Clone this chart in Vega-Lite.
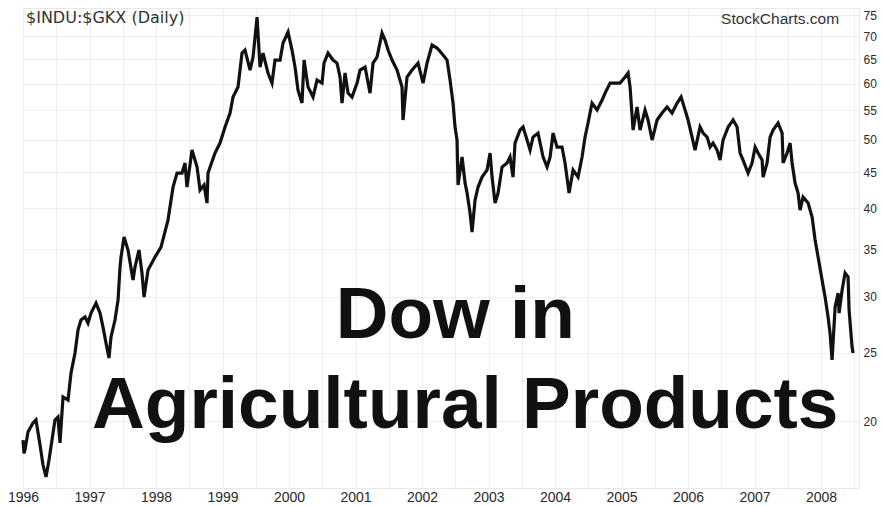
{
  "$schema": "https://vega.github.io/schema/vega-lite/v6.json",
  "width": 836,
  "height": 480,
  "autosize": {"type": "none"},
  "padding": {"left": 23, "top": 8, "right": 23, "bottom": 18},
  "background": "white",
  "config": {
    "font": "Liberation Sans",
    "view": {"stroke": "#e8e8e8", "strokeWidth": 1}
  },
  "datasets": {
    "series": [
      {"t": 1996.000, "v": 18.80}, {"t": 1996.015, "v": 18.00}, {"t": 1996.030, "v": 18.20}, {"t": 1996.075, "v": 19.30}, {"t": 1996.150, "v": 19.87},
      {"t": 1996.195, "v": 20.07}, {"t": 1996.256, "v": 18.50}, {"t": 1996.301, "v": 17.33}, {"t": 1996.346, "v": 16.67},
      {"t": 1996.391, "v": 17.61}, {"t": 1996.436, "v": 18.80}, {"t": 1996.481, "v": 20.07}, {"t": 1996.526, "v": 20.26},
      {"t": 1996.556, "v": 18.62}, {"t": 1996.602, "v": 21.63}, {"t": 1996.677, "v": 21.42}, {"t": 1996.722, "v": 23.39},
      {"t": 1996.782, "v": 24.96}, {"t": 1996.827, "v": 26.90}, {"t": 1996.872, "v": 27.79}, {"t": 1996.932, "v": 28.07},
      {"t": 1996.977, "v": 27.52}, {"t": 1997.023, "v": 28.43}, {"t": 1997.098, "v": 29.37}, {"t": 1997.158, "v": 28.43},
      {"t": 1997.203, "v": 27.16}, {"t": 1997.248, "v": 25.79}, {"t": 1997.293, "v": 24.56}, {"t": 1997.323, "v": 26.29},
      {"t": 1997.383, "v": 27.79}, {"t": 1997.429, "v": 29.66}, {"t": 1997.459, "v": 33.03}, {"t": 1997.474, "v": 34.12},
      {"t": 1997.519, "v": 36.42}, {"t": 1997.579, "v": 34.91}, {"t": 1997.654, "v": 31.66}, {"t": 1997.684, "v": 33.03},
      {"t": 1997.744, "v": 34.91}, {"t": 1997.789, "v": 32.39}, {"t": 1997.820, "v": 29.95}, {"t": 1997.880, "v": 32.71},
      {"t": 1997.985, "v": 34.12}, {"t": 1998.075, "v": 35.25}, {"t": 1998.180, "v": 38.49}, {"t": 1998.256, "v": 42.86},
      {"t": 1998.316, "v": 44.86}, {"t": 1998.391, "v": 44.86}, {"t": 1998.436, "v": 46.35}, {"t": 1998.466, "v": 42.86},
      {"t": 1998.541, "v": 48.35}, {"t": 1998.617, "v": 45.75}, {"t": 1998.662, "v": 42.44}, {"t": 1998.722, "v": 43.14},
      {"t": 1998.767, "v": 40.68}, {"t": 1998.782, "v": 44.86}, {"t": 1998.887, "v": 47.88}, {"t": 1998.962, "v": 49.46},
      {"t": 1999.038, "v": 52.11}, {"t": 1999.113, "v": 54.55}, {"t": 1999.158, "v": 57.46}, {"t": 1999.233, "v": 59.36},
      {"t": 1999.293, "v": 66.31}, {"t": 1999.338, "v": 66.97}, {"t": 1999.414, "v": 62.74}, {"t": 1999.459, "v": 65.46},
      {"t": 1999.519, "v": 74.57}, {"t": 1999.564, "v": 63.36}, {"t": 1999.609, "v": 66.31}, {"t": 1999.684, "v": 62.14},
      {"t": 1999.744, "v": 60.14}, {"t": 1999.789, "v": 64.82}, {"t": 1999.865, "v": 64.82}, {"t": 1999.910, "v": 68.51},
      {"t": 1999.985, "v": 71.01}, {"t": 2000.045, "v": 66.97}, {"t": 2000.090, "v": 63.36}, {"t": 2000.135, "v": 58.79},
      {"t": 2000.195, "v": 56.35}, {"t": 2000.226, "v": 64.82}, {"t": 2000.286, "v": 59.36}, {"t": 2000.361, "v": 57.46},
      {"t": 2000.421, "v": 60.73}, {"t": 2000.496, "v": 60.14}, {"t": 2000.526, "v": 64.19}, {"t": 2000.586, "v": 66.31},
      {"t": 2000.662, "v": 64.82}, {"t": 2000.722, "v": 64.19}, {"t": 2000.767, "v": 61.33}, {"t": 2000.797, "v": 56.35},
      {"t": 2000.842, "v": 62.14}, {"t": 2000.887, "v": 58.21}, {"t": 2000.947, "v": 57.46}, {"t": 2001.023, "v": 60.14},
      {"t": 2001.068, "v": 62.74}, {"t": 2001.143, "v": 63.36}, {"t": 2001.218, "v": 58.21}, {"t": 2001.263, "v": 64.19},
      {"t": 2001.323, "v": 65.46}, {"t": 2001.398, "v": 70.78}, {"t": 2001.444, "v": 69.18}, {"t": 2001.489, "v": 66.97},
      {"t": 2001.549, "v": 64.82}, {"t": 2001.624, "v": 62.74}, {"t": 2001.699, "v": 59.36}, {"t": 2001.714, "v": 53.32},
      {"t": 2001.774, "v": 61.33}, {"t": 2001.850, "v": 62.74}, {"t": 2001.940, "v": 64.19}, {"t": 2002.015, "v": 60.14},
      {"t": 2002.075, "v": 64.19}, {"t": 2002.150, "v": 68.07}, {"t": 2002.226, "v": 67.40}, {"t": 2002.316, "v": 65.89},
      {"t": 2002.376, "v": 64.82}, {"t": 2002.421, "v": 60.73}, {"t": 2002.466, "v": 56.35}, {"t": 2002.496, "v": 52.11},
      {"t": 2002.526, "v": 49.95}, {"t": 2002.541, "v": 43.14}, {"t": 2002.602, "v": 47.26}, {"t": 2002.647, "v": 43.42},
      {"t": 2002.677, "v": 42.03}, {"t": 2002.722, "v": 39.38}, {"t": 2002.752, "v": 37.02}, {"t": 2002.797, "v": 41.08},
      {"t": 2002.842, "v": 42.86}, {"t": 2002.902, "v": 44.28}, {"t": 2002.977, "v": 45.30}, {"t": 2003.023, "v": 47.88},
      {"t": 2003.053, "v": 44.28}, {"t": 2003.098, "v": 40.68}, {"t": 2003.143, "v": 42.03}, {"t": 2003.203, "v": 45.75},
      {"t": 2003.278, "v": 46.35}, {"t": 2003.323, "v": 47.26}, {"t": 2003.368, "v": 44.28}, {"t": 2003.398, "v": 49.46},
      {"t": 2003.474, "v": 51.61}, {"t": 2003.519, "v": 52.11}, {"t": 2003.579, "v": 49.95}, {"t": 2003.624, "v": 48.35},
      {"t": 2003.669, "v": 50.44}, {"t": 2003.744, "v": 51.10}, {"t": 2003.820, "v": 47.26}, {"t": 2003.880, "v": 45.75},
      {"t": 2003.925, "v": 47.26}, {"t": 2003.970, "v": 51.10}, {"t": 2004.030, "v": 48.82}, {"t": 2004.105, "v": 48.82},
      {"t": 2004.150, "v": 46.35}, {"t": 2004.211, "v": 42.03}, {"t": 2004.271, "v": 45.30}, {"t": 2004.346, "v": 44.28},
      {"t": 2004.406, "v": 47.26}, {"t": 2004.451, "v": 50.44}, {"t": 2004.496, "v": 52.80}, {"t": 2004.556, "v": 56.35},
      {"t": 2004.632, "v": 55.08}, {"t": 2004.707, "v": 56.90}, {"t": 2004.752, "v": 58.21}, {"t": 2004.827, "v": 60.14},
      {"t": 2004.902, "v": 60.14}, {"t": 2004.977, "v": 60.14}, {"t": 2005.053, "v": 61.33}, {"t": 2005.098, "v": 62.14},
      {"t": 2005.128, "v": 59.36}, {"t": 2005.173, "v": 51.61}, {"t": 2005.233, "v": 55.62}, {"t": 2005.278, "v": 51.61},
      {"t": 2005.353, "v": 55.08}, {"t": 2005.398, "v": 53.32}, {"t": 2005.459, "v": 49.95}, {"t": 2005.534, "v": 53.32},
      {"t": 2005.609, "v": 54.55}, {"t": 2005.684, "v": 55.62}, {"t": 2005.759, "v": 54.55}, {"t": 2005.835, "v": 56.35},
      {"t": 2005.895, "v": 57.46}, {"t": 2005.955, "v": 55.08}, {"t": 2006.000, "v": 53.32}, {"t": 2006.060, "v": 50.44},
      {"t": 2006.105, "v": 48.35}, {"t": 2006.180, "v": 52.11}, {"t": 2006.226, "v": 51.10}, {"t": 2006.286, "v": 50.44},
      {"t": 2006.331, "v": 48.82}, {"t": 2006.376, "v": 49.46}, {"t": 2006.436, "v": 48.35}, {"t": 2006.481, "v": 46.80},
      {"t": 2006.526, "v": 49.95}, {"t": 2006.602, "v": 52.11}, {"t": 2006.677, "v": 53.32}, {"t": 2006.737, "v": 52.11},
      {"t": 2006.782, "v": 47.88}, {"t": 2006.827, "v": 46.80}, {"t": 2006.902, "v": 44.86}, {"t": 2006.962, "v": 46.35},
      {"t": 2007.008, "v": 48.82}, {"t": 2007.053, "v": 47.88}, {"t": 2007.113, "v": 46.80}, {"t": 2007.128, "v": 44.28},
      {"t": 2007.188, "v": 46.35}, {"t": 2007.233, "v": 50.44}, {"t": 2007.278, "v": 51.61}, {"t": 2007.353, "v": 52.80},
      {"t": 2007.414, "v": 51.10}, {"t": 2007.429, "v": 46.35}, {"t": 2007.489, "v": 47.88}, {"t": 2007.534, "v": 49.46},
      {"t": 2007.564, "v": 46.35}, {"t": 2007.609, "v": 43.42}, {"t": 2007.654, "v": 42.03}, {"t": 2007.684, "v": 39.77},
      {"t": 2007.729, "v": 41.50}, {"t": 2007.805, "v": 40.68}, {"t": 2007.865, "v": 38.87}, {"t": 2007.910, "v": 36.07},
      {"t": 2007.955, "v": 34.12}, {"t": 2008.015, "v": 31.66}, {"t": 2008.060, "v": 29.95}, {"t": 2008.105, "v": 28.07},
      {"t": 2008.135, "v": 26.60}, {"t": 2008.165, "v": 24.40}, {"t": 2008.211, "v": 28.99}, {"t": 2008.256, "v": 30.35},
      {"t": 2008.271, "v": 28.43}, {"t": 2008.316, "v": 30.64}, {"t": 2008.361, "v": 32.39}, {"t": 2008.406, "v": 31.97},
      {"t": 2008.421, "v": 28.71}, {"t": 2008.466, "v": 25.45}, {"t": 2008.481, "v": 24.96}
    ],
    "bigText": [
      {"t": 2002.50, "v": 26.21, "label": "Dow in"},
      {"t": 2002.65, "v": 19.55, "label": "Agricultural Products"}
    ],
    "symbolText": [
      {"t": 1996.045, "v": 73.2, "label": "$INDU:$GKX (Daily)"}
    ],
    "sourceText": [
      {"t": 2008.271, "v": 72.9, "label": "StockCharts.com"}
    ]
  },
  "encoding": {
    "x": {
      "field": "t",
      "type": "quantitative",
      "scale": {"domain": [1996, 2008.57], "nice": false, "zero": false},
      "axis": {
        "title": null,
        "orient": "bottom",
        "values": [1996, 1996.5, 1997, 1997.5, 1998, 1998.5, 1999, 1999.5, 2000, 2000.5, 2001, 2001.5, 2002, 2002.5, 2003, 2003.5, 2004, 2004.5, 2005, 2005.5, 2006, 2006.5, 2007, 2007.5, 2008, 2008.5],
        "labelExpr": "datum.value % 1 == 0 ? format(datum.value, 'd') : ''",
        "grid": true,
        "gridColor": "#eeeeee",
        "gridWidth": 1,
        "domain": false,
        "ticks": false,
        "labelFont": "Liberation Sans",
        "labelFontSize": 14,
        "labelColor": "#2a2a2a",
        "labelPadding": 2,
        "labelOverlap": false,
        "labelFlush": false
      }
    },
    "y": {
      "field": "v",
      "type": "quantitative",
      "scale": {"type": "log", "domain": [16.08, 76.8], "nice": false, "zero": false},
      "axis": {
        "title": null,
        "orient": "right",
        "values": [20, 25, 30, 35, 40, 45, 50, 55, 60, 65, 70, 75],
        "format": "d",
        "grid": true,
        "gridColor": "#eeeeee",
        "gridWidth": 1,
        "domain": false,
        "ticks": false,
        "labelFont": "Liberation Sans",
        "labelFontSize": 12,
        "labelColor": "#2a2a2a",
        "labelPadding": 4,
        "labelOverlap": false
      }
    }
  },
  "layer": [
    {
      "data": {"name": "series"},
      "mark": {"type": "line", "color": "#111111", "strokeWidth": 3.2, "strokeJoin": "miter", "interpolate": "linear"}
    },
    {
      "data": {"name": "bigText"},
      "mark": {"type": "text", "font": "Liberation Sans", "fontWeight": "bold", "fontSize": 73, "color": "#111111", "align": "center", "baseline": "alphabetic"},
      "encoding": {"text": {"field": "label", "type": "nominal"}}
    },
    {
      "data": {"name": "symbolText"},
      "mark": {"type": "text", "font": "DejaVu Sans", "fontSize": 16, "color": "#333333", "align": "left", "baseline": "alphabetic"},
      "encoding": {"text": {"field": "label", "type": "nominal"}}
    },
    {
      "data": {"name": "sourceText"},
      "mark": {"type": "text", "font": "Liberation Sans", "fontSize": 15.5, "color": "#333333", "align": "right", "baseline": "alphabetic"},
      "encoding": {"text": {"field": "label", "type": "nominal"}}
    }
  ]
}
